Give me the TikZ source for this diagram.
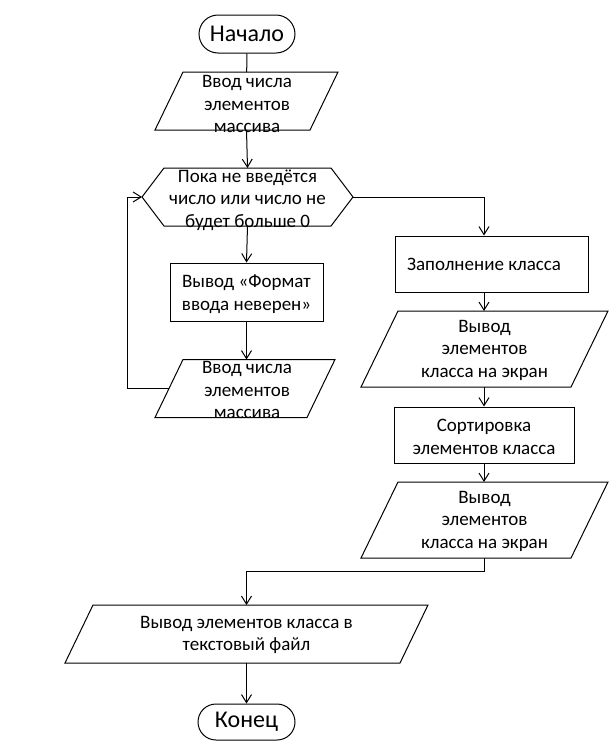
\documentclass[tikz,border=0pt]{standalone}
\usepackage{fontspec}
\setmainfont{Carlito}
\usetikzlibrary{shapes.misc,arrows.meta,calc}
\begin{document}
\begin{tikzpicture}[x=1pt,y=-1pt,
  every path/.style={line width=1pt},
  lbl/.style={font=\fontsize{19}{22.5}\selectfont,align=center,inner sep=0pt},
  term/.style={draw,rounded rectangle,minimum width=96pt,minimum height=38pt,inner sep=0pt,font=\fontsize{24}{28}\selectfont},
  frame/.style={draw=none,rectangle,inner sep=0pt,outer sep=0pt},
  procbox/.style={draw,rectangle,inner sep=0pt},
  arr/.style={-{Straight Barb[length=8pt,width=10pt]}},
  plain/.style={-}
]
\useasboundingbox (0,0) rectangle (616,750);
% shapes (frames give the bounding boxes of parallelograms and hexagon)
\node[term] (start) at (247,34) {Начало};
\node[frame,minimum width=183pt,minimum height=58pt] (p1) at (246.5,101) {};
\node[frame,minimum width=211pt,minimum height=58pt] (hex) at (247.5,197) {};
\node[procbox,minimum width=153pt,minimum height=58pt] (b2) at (246.5,292) {};
\node[frame,minimum width=180pt,minimum height=58pt] (p3) at (245,388.5) {};
\node[procbox,minimum width=193pt,minimum height=56pt] (b4) at (491.5,264) {};
\node[frame,minimum width=247pt,minimum height=76pt] (p4) at (484.5,349) {};
\node[procbox,minimum width=180pt,minimum height=56pt] (b6) at (484,435) {};
\node[frame,minimum width=247pt,minimum height=76pt] (p5) at (484.5,520) {};
\node[frame,minimum width=363pt,minimum height=58pt] (p6) at (246.5,634) {};
\node[term,minimum width=97pt,minimum height=36pt] (end) at (246.5,722) {Конец};
% outlines
\foreach \p/\s in {p1/28,p3/28,p4/37,p5/37,p6/28}{
  \draw (\p.south west) -- ($(\p.north west)+(\s,0)$) -- (\p.north east)
        -- ($(\p.south east)-(\s,0)$) -- cycle;
}
\draw (hex.west) -- ($(hex.north west)+(22,0)$) -- ($(hex.north east)-(22,0)$)
      -- (hex.east) -- ($(hex.south east)-(22,0)$) -- ($(hex.south west)+(22,0)$) -- cycle;
% texts
\node[lbl] (t1) at (247,104) {Ввод числа\\элементов\\массива};
\node[lbl] (th) at (247.5,200) {Пока не введётся\\число или число не\\будет больше 0};
\node[lbl] (tb2) at (246.5,294) {Вывод «Формат\\ввода неверен»};
\node[lbl] (t3) at (247,390) {Ввод числа\\элементов\\массива};
\node[lbl] (tb4) at (484,264) {Заполнение класса};
\node[lbl] (t4) at (484.5,350) {Вывод\\элементов\\класса на экран};
\node[lbl] (tb6) at (484,437) {Сортировка\\элементов класса};
\node[lbl] (t5) at (484.5,521) {Вывод\\элементов\\класса на экран};
\node[lbl] (t6) at (246.5,635) {Вывод элементов класса в\\текстовый файл};
% helper coordinates
\coordinate (loopx) at (127,0);
\coordinate (rc) at (484,0);
\coordinate (join) at (0,571);
\coordinate (p3left) at ($(p3.west)+(14,0)$);
% connectors
\draw[plain] (start) -- (p1);
\draw[arr] (p1.south) -- (hex.north);
\draw[arr] (hex.south) -- (b2.north);
\draw[arr] (b2.south -| p1.south) -- (p3.north -| p1.south);
\draw[arr] (p3left) -- (p3left -| loopx) |- (hex.west);
\draw[arr] (hex.east) -| (rc |- b4.north);
\draw[arr] (rc |- b4.south) -- (p4.north -| rc);
\draw[arr] (p4.south -| rc) -- (b6.north);
\draw[arr] (b6.south) -- (p5.north -| rc);
\draw[arr] (p5.south -| rc) -- (rc |- join) -| (p6.north);
\draw[arr] (p6.south) -- (end.north);
\end{tikzpicture}
\end{document}
